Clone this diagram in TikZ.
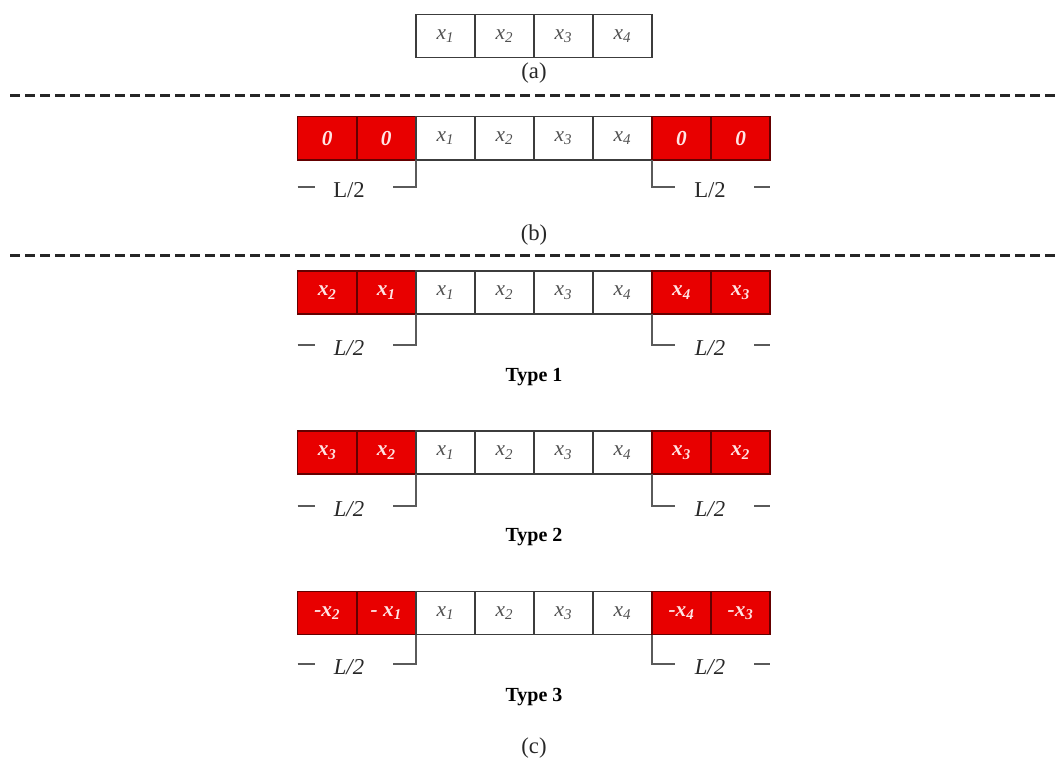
\documentclass[tikz,border=0pt]{standalone}
\usepackage{fontspec}
\setmainfont{Liberation Serif}
\usetikzlibrary{calc}

\definecolor{padred}{RGB}{232,0,0}
\definecolor{padedge}{RGB}{100,0,0}
\definecolor{padtext}{RGB}{255,228,228}
\definecolor{cellink}{RGB}{80,80,80}
\definecolor{celledge}{RGB}{60,60,60}
\definecolor{bracketink}{RGB}{90,90,90}
\definecolor{labelink}{RGB}{40,40,40}

% italic x with an italic index
\newcommand{\xs}[1]{\textit{x}\textsubscript{\textit{#1}}}

\tikzset{
  basecell/.style={rectangle, minimum width=44.29pt, minimum height=32.5pt,
    inner sep=0pt, outer sep=0pt, line width=1.1pt},
  datacell/.style={basecell, draw=celledge, fill=white, text=cellink,
    font=\fontsize{16}{16}\selectfont\itshape},
  padcell/.style={basecell, draw=padedge, fill=padred, text=padtext,
    font=\fontsize{16}{16}\selectfont\bfseries\itshape},
  bracket/.style={draw=bracketink, line width=1.1pt},
  lenup/.style={text=labelink, inner sep=0pt, font=\fontsize{17}{20}\selectfont},
  lenit/.style={text=labelink, inner sep=0pt, font=\fontsize{17}{20}\selectfont\itshape},
  caption/.style={text=labelink, inner sep=0pt, font=\fontsize{17}{20}\selectfont},
  typelabel/.style={text=black, inner sep=0pt, font=\fontsize{15}{18}\selectfont\bfseries},
  divider/.style={draw=black!85, line width=2.25pt, dash pattern=on 7.5pt off 3.75pt}
}

% one padded sequence: #1 name, #2 centre y, #3 bracket y, #4 length-label style,
% #5-#8 the two leading and two trailing padded entries
\newcommand{\padrow}[8]{%
  \node[padcell]  (#1-0) at (327.2,#2)  {#5};
  \node[padcell]  (#1-1) at (386.3,#2)  {#6};
  \node[datacell] (#1-2) at (445.35,#2) {\xs1};
  \node[datacell] (#1-3) at (504.4,#2)  {\xs2};
  \node[datacell] (#1-4) at (563.45,#2) {\xs3};
  \node[datacell] (#1-5) at (622.5,#2)  {\xs4};
  \node[padcell]  (#1-6) at (681.55,#2) {#7};
  \node[padcell]  (#1-7) at (740.6,#2)  {#8};
  \coordinate (#1-lb) at (393,#3);
  \coordinate (#1-rb) at (675,#3);
  \coordinate (#1-la) at (297.7,#3);
  \coordinate (#1-lz) at (315,#3);
  \coordinate (#1-ra) at (754,#3);
  \coordinate (#1-rz) at (770,#3);
  \draw[bracket] (#1-1.south east) |- (#1-lb);
  \draw[bracket] (#1-6.south west) |- (#1-rb);
  \draw[bracket] (#1-la) -- (#1-lz);
  \draw[bracket] (#1-ra) -- (#1-rz);
  \node[#4] (#1-ll) at (349,#3+3) {L/2};
  \node[#4] (#1-rl) at (710,#3+3) {L/2};
}

\begin{document}
\begin{tikzpicture}[x=0.75pt, y=-0.75pt]
  \useasboundingbox (0,0) rectangle (1057,762);

  % (a) the plain sequence
  \node[datacell] (a-2) at (445.35,36) {\xs1};
  \node[datacell] (a-3) at (504.4,36)  {\xs2};
  \node[datacell] (a-4) at (563.45,36) {\xs3};
  \node[datacell] (a-5) at (622.5,36)  {\xs4};
  \node[caption] (cap-a) at (534,73) {(a)};

  \coordinate (d1a) at (10,96);
  \coordinate (d1b) at (1057,96);
  \draw[divider] (d1a) -- (d1b);

  % (b) zero padding
  \padrow{b}{138.3}{187}{lenup}{0}{0}{0}{0}
  \node[caption] (cap-b) at (534,235) {(b)};

  \coordinate (d2a) at (10,256);
  \coordinate (d2b) at (1057,256);
  \draw[divider] (d2a) -- (d2b);

  % (c) the three reflective paddings
  \padrow{t1}{292.5}{345}{lenit}{\xs2}{\xs1}{\xs4}{\xs3}
  \node[typelabel] (type1) at (534,377) {Type 1};

  \padrow{t2}{452.5}{506}{lenit}{\xs3}{\xs2}{\xs3}{\xs2}
  \node[typelabel] (type2) at (534,537) {Type 2};

  \padrow{t3}{613}{664}{lenit}{-\xs2}{- \xs1}{-\xs4}{-\xs3}
  \node[typelabel] (type3) at (534,697) {Type 3};

  \node[caption] (cap-c) at (534,748) {(c)};
\end{tikzpicture}
\end{document}
